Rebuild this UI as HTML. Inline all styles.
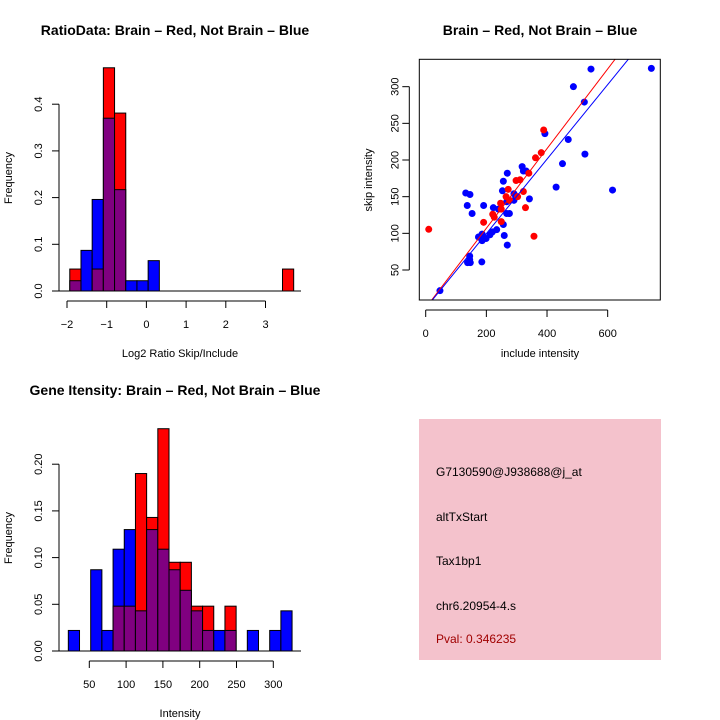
<!DOCTYPE html>
<html><head><meta charset="utf-8"><style>
body{margin:0;background:#fff}
svg{display:block;font-family:"Liberation Sans",sans-serif}
</style></head><body>
<svg id="s" width="720" height="720">
<rect x="0" y="0" width="720" height="720" fill="#fff"/>
<g id="p1"></g>
<g id="p2"></g>
<g id="p3"></g>
<g>
<rect x="419" y="419" width="242" height="241" fill="#f4c2cc"/>
<text x="436" y="476" font-size="12">G7130590@J938688@j_at</text>
<text x="436" y="521" font-size="12">altTxStart</text>
<text x="436" y="565" font-size="12">Tax1bp1</text>
<text x="436" y="610" font-size="12">chr6.20954-4.s</text>
<text x="436" y="643" font-size="12" fill="#a00000">Pval: 0.346235</text>
</g>
</svg>
<script>
// ---- Ratio histogram data ----
const ratioBreakStart = -1.93;
const ratioBinWidth = 0.282;
const ratioBlue = [0.022,0.087,0.196,0.370,0.217,0.022,0.022,0.065,0,0,0,0,0,0,0,0,0,0,0,0];
const ratioRed  = [0.047,0,0.047,0.478,0.381,0,0,0,0,0,0,0,0,0,0,0,0,0,0,0.047];
const ratioXTicks = [-2,-1,0,1,2,3];
const ratioYTicks = [0,0.1,0.2,0.3,0.4];
// ---- Scatter data ----
const bluePtsX = [47,132,146,137,153,145,145,138,147,185,191,174,186,186,199,212,220,234,223,240,256,253,269,256,259,269,267,276,267,291,291,318,322,331,342,430,451,470,393,487,523,545,525,616,744];
const bluePtsY = [21.8,155,153,138,127,69,64,60,60,61,138,95,99,90,93,98,102,105,135,133,171,158,182,112,97,84,127,127,143,154,145,191,185,185,147,163,195,228,236,300,279,324,208,159,325];
const redPtsX = [10,191,221,226,247,249,249,265,272,277,298,311,303,322,340,329,357,362,381,389];
const redPtsY = [105.5,115,126,122,141,133,116,150,160,145,172,173,150,157,182,135,96,203,210,241];
const redFit = [-1.65,0.543];
const blueFit = [-2.0,0.508];
const scatterXTicks = [0,200,400,600];
const scatterYTicks = [50,100,150,200,250,300];
// ---- Intensity histogram data ----
const intBreakStart = 21.5;
const intBinWidth = 15.2;
const intBlue = [0.022,0,0.087,0.022,0.109,0.130,0.043,0.130,0.109,0.087,0.065,0.043,0.022,0.022,0.022,0,0.022,0,0.022,0.043];
const intRed  = [0,0,0,0,0.048,0.048,0.190,0.143,0.238,0.095,0.095,0.048,0.048,0,0.048,0,0,0,0,0];
const intXTicks = [50,100,150,200,250,300];
const intYTicks = [0,0.05,0.10,0.15,0.20];
const intYLabels = ["0.00","0.05","0.10","0.15","0.20"];

const NS="http://www.w3.org/2000/svg";
function mk(parent,tag,attrs){const e=document.createElementNS(NS,tag);for(const k in attrs)e.setAttribute(k,attrs[k]);parent.appendChild(e);return e;}
function txt(parent,x,y,s,size,rot,weight){const t=mk(parent,'text',{x:x,y:y,'font-size':size,'text-anchor':'middle'});if(rot)t.setAttribute('transform','rotate(-90 '+x+' '+y+')');if(weight)t.setAttribute('font-weight',weight);t.textContent=s;return t;}

function hist(g,o){
  const X=v=>o.x0+(v-o.xv0)*o.xs, Y=v=>o.y0-v*o.ys;
  for(let i=0;i<o.blue.length;i++){
    const a=o.bs+i*o.bw,b=a+o.bw,bl=o.blue[i],rd=o.red[i];
    const hi=Math.max(bl,rd),lo=Math.min(bl,rd);
    if(hi>0){const r=mk(g,'rect',{x:X(a),y:Y(hi),width:X(b)-X(a),height:Y(0)-Y(hi),fill:bl>rd?'#0000ff':'#ff0000',stroke:'#000','stroke-width':1});
      
      }
    if(lo>0){const r=mk(g,'rect',{x:X(a),y:Y(lo),width:X(b)-X(a),height:Y(0)-Y(lo),fill:'#800080',stroke:'#000','stroke-width':1});
      
      }
  }
  const base=mk(g,'line',{x1:52,x2:301,y1:Y(0),y2:Y(0),stroke:'#000'});
  
  
  const ya=mk(g,'g',{});
  
  
  mk(ya,'line',{x1:59,x2:59,y1:Y(o.yt[0]),y2:Y(o.yt[o.yt.length-1]),stroke:'#000'});
  o.yt.forEach((v,i)=>{mk(ya,'line',{x1:52,x2:59,y1:Y(v),y2:Y(v),stroke:'#000'});txt(ya,42,Y(v),o.yl[i],11,true);});
  const xa=mk(g,'g',{});
  
  
  const ay=o.y0+10;
  mk(xa,'line',{x1:X(o.xt[0]),x2:X(o.xt[o.xt.length-1]),y1:ay,y2:ay,stroke:'#000'});
  o.xt.forEach(v=>{mk(xa,'line',{x1:X(v),x2:X(v),y1:ay,y2:ay+7,stroke:'#000'});txt(xa,X(v),ay+27,String(v).replace('-','\u2212'),11);});
  const t=txt(g,175,o.y0-256,o.title,14,false,'bold');
  
  
  const xl=txt(g,180,o.y0+66,o.xlab,11);
  
  
  const yl=txt(g,12,o.y0-113,'Frequency',11,true);
  
  
}
hist(document.getElementById('p1'),{x0:67,xv0:-2,xs:39.7,y0:291,ys:467,bs:ratioBreakStart,bw:ratioBinWidth,blue:ratioBlue,red:ratioRed,xt:ratioXTicks,yt:ratioYTicks,yl:ratioYTicks.map(v=>v.toFixed(1)),title:'RatioData: Brain \u2013 Red, Not Brain \u2013 Blue',xlab:'Log2 Ratio Skip/Include'});
hist(document.getElementById('p3'),{x0:89.3,xv0:50,xs:0.736,y0:651,ys:934,bs:intBreakStart,bw:intBinWidth,blue:intBlue,red:intRed,xt:intXTicks,yt:intYTicks,yl:intYLabels,title:'Gene Itensity: Brain \u2013 Red, Not Brain \u2013 Blue',xlab:'Intensity'});

(function(){
  const g=document.getElementById('p2');
  const X=v=>425.7+v*0.3033, Y=v=>270-(v-50)*0.7333;
  const L=419.3,R=660.3,T=59.3,B=300;
  const defs=mk(g,'defs',{});const cp=mk(defs,'clipPath',{id:'cp'});mk(cp,'rect',{x:L,y:T,width:R-L,height:B-T});
  const pts=mk(g,'g',{});
  
  
  bluePtsX.forEach((x,i)=>{const c=mk(pts,'circle',{cx:X(x),cy:Y(bluePtsY[i]),r:3.5,fill:'#0000ff'});
    
    });
  redPtsX.forEach((x,i)=>{const c=mk(pts,'circle',{cx:X(x),cy:Y(redPtsY[i]),r:3.5,fill:'#ff0000'});
    
    });
  [[redFit,'#ff0000','fit-line-red'],[blueFit,'#0000ff','fit-line-blue']].forEach(([f,c,n])=>{
    const l=mk(g,'line',{x1:X(-100),y1:Y(f[0]-100*f[1]),x2:X(900),y2:Y(f[0]+900*f[1]),stroke:c,'stroke-width':1,'clip-path':'url(#cp)'});
    
    });
  const box=mk(g,'rect',{x:L,y:T,width:R-L,height:B-T,fill:'none',stroke:'#000'});
  
  
  const xa=mk(g,'g',{});
  
  
  mk(xa,'line',{x1:X(0),x2:X(600),y1:B+10,y2:B+10,stroke:'#000'});
  scatterXTicks.forEach(v=>{mk(xa,'line',{x1:X(v),x2:X(v),y1:B+10,y2:B+17,stroke:'#000'});txt(xa,X(v),B+37,String(v),11);});
  const ya=mk(g,'g',{});
  
  
  mk(ya,'line',{x1:L-10,x2:L-10,y1:Y(50),y2:Y(300),stroke:'#000'});
  scatterYTicks.forEach(v=>{mk(ya,'line',{x1:L-17,x2:L-10,y1:Y(v),y2:Y(v),stroke:'#000'});txt(ya,L-21,Y(v),String(v),11,true);});
  const t=txt(g,540,35,'Brain \u2013 Red, Not Brain \u2013 Blue',14,false,'bold');
  
  
  const xl=txt(g,540,357,'include intensity',11);
  
  
  const yl=txt(g,372,180,'skip intensity',11,true);
  
  
})();
</script>
</body></html>
